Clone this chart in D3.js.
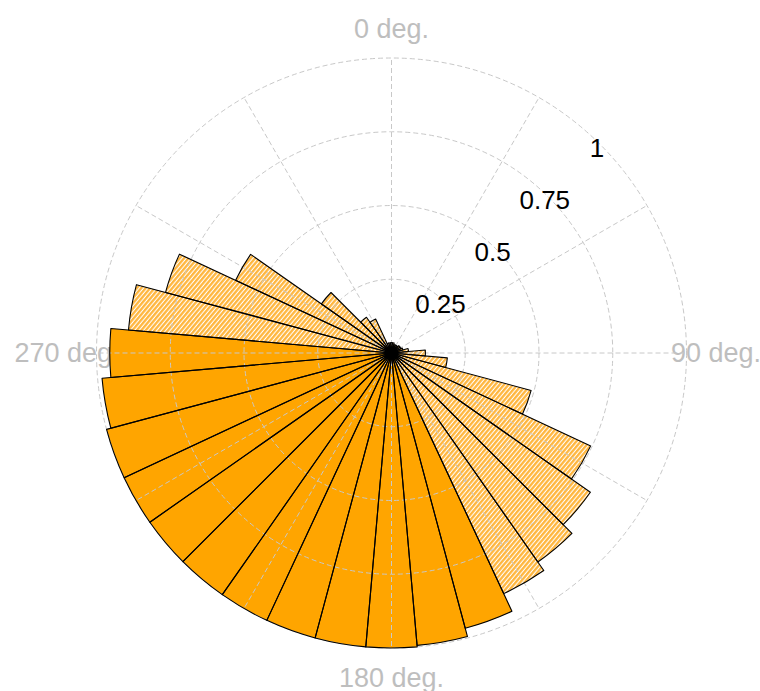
<!DOCTYPE html>
<html>
<head>
<meta charset="utf-8" />
<script src="https://cdn.jsdelivr.net/npm/d3@7"></script>
<style>
  body { margin: 0; background: #fff; }
  svg { display: block; font-family: "Liberation Sans", Arial, sans-serif; }
</style>
</head>
<body>
<script>
const width = 760,
  height = 691;

// bar direction (deg) / length / group
const angles = [
  0, 10, 20, 30, 40, 50, 60, 70, 80, 90, 100, 110, 120, 130, 140, 150, 160, 170,
  180, 190, 200, 210, 220, 230, 240, 250, 260, 270, 280, 290, 300, 310, 320, 330,
  340, 350,
];
const values = [
  0.035, 0.035, 0.03, 0.03, 0.03, 0.035, 0.035, 0.04, 0.058, 0.115, 0.19, 0.49,
  0.745, 0.823, 0.865, 0.9, 0.966, 0.995, 1.0, 1.0, 1.0, 1.0, 1.0, 1.0, 1.0,
  1.0, 0.985, 0.955, 0.895, 0.793, 0.583, 0.29, 0.148, 0.127, 0.035, 0.035,
];
const groups = [
  "b", "b", "b", "b", "b", "b", "b", "b", "b", "b", "b", "b", "b", "b", "b",
  "b", "a", "a", "a", "a", "a", "a", "a", "a", "a", "a", "a", "a", "b", "b",
  "b", "b", "b", "b", "b", "b",
];
const radialTicks = [0.25, 0.5, 0.75, 1];
const radialTickLabels = ["0.25", "0.5", "0.75", "1"];
const axisAngles = [0, 90, 180, 270];
const axisLabels = ["0 deg.", "90 deg.", "180 deg.", "270 deg."];
const spokeAngles = d3.range(0, 360, 30);

const bars = angles.map((a, i) => ({ angle: a, value: values[i], group: groups[i] }));

const cx = 391.5,
  cy = 353,
  R = 295,
  binWidth = 10;

const r = d3.scaleLinear().domain([0, 1]).range([0, R]);
const theta = d3.scaleLinear().domain([0, 360]).range([0, 2 * Math.PI]);

const svg = d3
  .select("body")
  .append("svg")
  .attr("width", width)
  .attr("height", height);

// hatch pattern for the light bars
const defs = svg.append("defs");
const hatch = defs
  .append("pattern")
  .attr("id", "hatch")
  .attr("patternUnits", "userSpaceOnUse")
  .attr("width", 3.4)
  .attr("height", 10)
  .attr("patternTransform", "rotate(40)");
hatch.append("rect").attr("width", 3.4).attr("height", 10).attr("fill", "#ffffff");
hatch
  .append("line")
  .attr("x1", 1.2)
  .attr("x2", 1.2)
  .attr("y1", 0)
  .attr("y2", 10)
  .attr("stroke", "#ffb53a")
  .attr("stroke-width", 2.3);

const g = svg.append("g").attr("transform", `translate(${cx},${cy})`);

//////// direction labels (under the bars) ////////
g.append("g")
  .selectAll("text")
  .data(axisAngles)
  .enter()
  .append("text")
  .attr("x", (d) => r(1.1) * Math.sin(theta(d)))
  .attr("y", (d) => -r(1.1) * Math.cos(theta(d)))
  .attr("text-anchor", "middle")
  .attr("dominant-baseline", "central")
  .attr("font-size", 27)
  .attr("fill", "#bebebe")
  .text((d, i) => axisLabels[i]);

//////// bars ////////
const arc = d3
  .arc()
  .innerRadius(0)
  .outerRadius((d) => r(d.value))
  .startAngle((d) => theta(d.angle - binWidth / 2))
  .endAngle((d) => theta(d.angle + binWidth / 2));

g.append("g")
  .selectAll("path")
  .data(bars)
  .enter()
  .append("path")
  .attr("d", arc)
  .attr("fill", (d) => (d.group === "a" ? "#ffa500" : "url(#hatch)"))
  .attr("stroke", "none");

//////// grid ////////
const grid = g
  .append("g")
  .attr("fill", "none")
  .attr("stroke", "#c8c8c8")
  .attr("stroke-width", 1)
  .attr("stroke-dasharray", "5,3");

grid
  .selectAll("circle")
  .data(radialTicks)
  .enter()
  .append("circle")
  .attr("r", (d) => r(d));

grid
  .selectAll("line")
  .data(spokeAngles)
  .enter()
  .append("line")
  .attr("x1", 0)
  .attr("y1", 0)
  .attr("x2", (d) => r(1) * Math.sin(theta(d)))
  .attr("y2", (d) => -r(1) * Math.cos(theta(d)));

//////// bar outlines on top ////////
g.append("g")
  .selectAll("path")
  .data(bars)
  .enter()
  .append("path")
  .attr("d", arc)
  .attr("fill", "none")
  .attr("stroke", "#000")
  .attr("stroke-width", 1.1)
  .attr("stroke-linejoin", "round");

//////// radial tick labels ////////
g.append("g")
  .selectAll("text")
  .data(radialTicks)
  .enter()
  .append("text")
  .attr("x", (d) => (r(d) - 4.5) * Math.sin(theta(45)))
  .attr("y", (d) => -(r(d) - 4.5) * Math.cos(theta(45)))
  .attr("text-anchor", "middle")
  .attr("dominant-baseline", "central")
  .attr("font-size", 26)
  .attr("fill", "#000")
  .text((d, i) => radialTickLabels[i]);
</script>
</body>
</html>
